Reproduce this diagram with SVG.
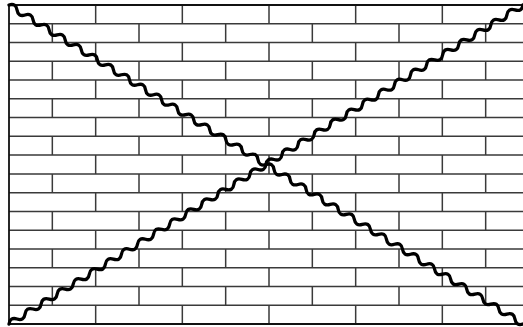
<svg xmlns="http://www.w3.org/2000/svg" width="523" height="327" viewBox="0 0 523 327">
<style>
.h{stroke:#3a3a3a;stroke-width:1.5;fill:none}
.v{stroke:#3a3a3a;stroke-width:1.5;fill:none;stroke-dasharray:18.765 18.765}
.frame{stroke:#111;stroke-width:1.8;fill:none}
.snake{stroke:#000;stroke-width:3.3;fill:none;stroke-linejoin:round;stroke-linecap:round}
</style>
<defs>
<path id="wave" d="M0,0 q4.726,-5.5 9.452,0 t9.452,0 t9.452,0 t9.452,0 t9.452,0 t9.452,0 t9.452,0 t9.452,0 t9.452,0 t9.452,0 t9.452,0 t9.452,0 t9.452,0 t9.452,0 t9.452,0 t9.452,0 t9.452,0 t9.452,0 t9.452,0 t9.452,0 t9.452,0 t9.452,0 t9.452,0 t9.452,0 t9.452,0 t9.452,0 t9.452,0 t9.452,0 t9.452,0 t9.452,0 t9.452,0 t9.452,0 t9.452,0 t9.452,0 t9.452,0 t9.452,0 t9.452,0 t9.452,0 t9.452,0 t9.452,0 t9.452,0 t9.452,0 t9.452,0 t9.452,0 t9.452,0 t9.452,0 t9.452,0 t9.452,0 t9.452,0 t9.452,0 t9.452,0 t9.452,0 t9.452,0 t9.452,0 t9.452,0 t9.452,0 t9.452,0 t9.452,0 t9.452,0 t9.452,0 t9.452,0 t9.452,0 t9.452,0 t9.452,0"/>
</defs>
<rect width="523" height="327" fill="#fff"/>
<g id="wall">
<path class="h" d="M9,23.76H523M9,42.53H523M9,61.29H523M9,80.06H523M9,98.82H523M9,117.59H523M9,136.35H523M9,155.12H523M9,173.88H523M9,192.65H523M9,211.41H523M9,230.18H523M9,248.94H523M9,267.71H523M9,286.47H523M9,305.24H523"/>
<g class="v">
<line x1="95.67" y1="5" x2="95.67" y2="324"/>
<line x1="182.33" y1="5" x2="182.33" y2="324"/>
<line x1="269" y1="5" x2="269" y2="324"/>
<line x1="355.67" y1="5" x2="355.67" y2="324"/>
<line x1="442.33" y1="5" x2="442.33" y2="324"/>
<line x1="52.33" y1="23.765" x2="52.33" y2="324"/>
<line x1="139" y1="23.765" x2="139" y2="324"/>
<line x1="225.67" y1="23.765" x2="225.67" y2="324"/>
<line x1="312.33" y1="23.765" x2="312.33" y2="324"/>
<line x1="399" y1="23.765" x2="399" y2="324"/>
<line x1="485.67" y1="23.765" x2="485.67" y2="324"/>
</g>
<path class="frame" d="M523,5H9V324H523"/>
</g>
<g id="connectors">
<use href="#wave" class="snake" transform="translate(9,5) rotate(31.83)"/>
<use href="#wave" class="snake" transform="translate(9,324) rotate(-31.83)"/>
</g>
</svg>
